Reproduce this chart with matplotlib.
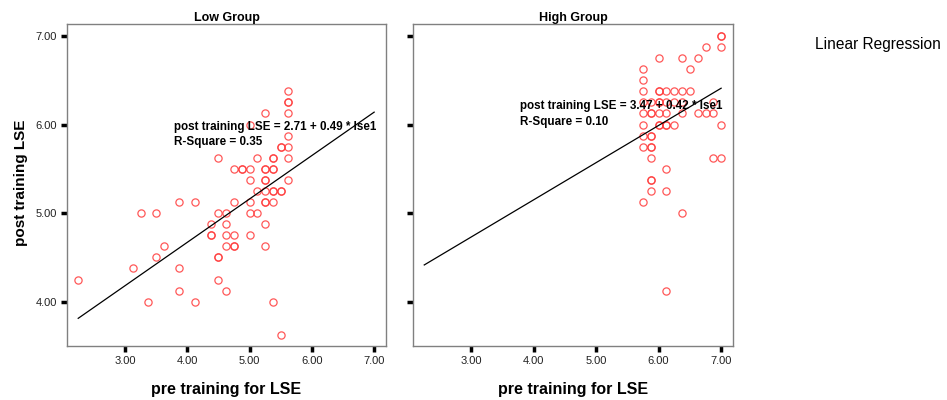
import matplotlib
matplotlib.use("Agg")
import matplotlib.pyplot as plt
import numpy as np

plt.rcParams['font.family'] = ['Liberation Sans', 'DejaVu Sans']

# ---- data ----
x_low = [5.625, 5.625, 5.625, 5.25, 5.625, 5.0, 5.625, 5.5, 5.5, 5.625,
         4.5, 5.125, 5.375, 5.375, 5.625,
         4.75, 4.875, 4.875, 5.0, 5.25, 5.25, 5.375, 5.375,
         5.0, 5.25, 5.25, 5.625,
         5.125, 5.25, 5.375, 5.375, 5.5, 5.5,
         3.875, 4.125, 4.75, 5.0, 5.25, 5.25, 5.375,
         3.25, 3.5, 4.5, 4.625, 5.0, 5.125,
         4.375, 4.625, 5.25,
         4.375, 4.375, 4.625, 4.75, 5.0,
         3.625, 4.625, 4.75, 4.75, 5.25,
         3.5, 4.5, 4.5,
         3.125, 3.875,
         2.25, 4.5,
         3.875, 4.625,
         3.375, 4.125, 5.375,
         5.5]
y_low = [6.375, 6.25, 6.25, 6.125, 6.125, 6.0, 5.875, 5.75, 5.75, 5.75,
         5.625, 5.625, 5.625, 5.625, 5.625,
         5.5, 5.5, 5.5, 5.5, 5.5, 5.5, 5.5, 5.5,
         5.375, 5.375, 5.375, 5.375,
         5.25, 5.25, 5.25, 5.25, 5.25, 5.25,
         5.125, 5.125, 5.125, 5.125, 5.125, 5.125, 5.125,
         5.0, 5.0, 5.0, 5.0, 5.0, 5.0,
         4.875, 4.875, 4.875,
         4.75, 4.75, 4.75, 4.75, 4.75,
         4.625, 4.625, 4.625, 4.625, 4.625,
         4.5, 4.5, 4.5,
         4.375, 4.375,
         4.25, 4.25,
         4.125, 4.125,
         4.0, 4.0, 4.0,
         3.625]

x_high = [7.0, 7.0, 6.75, 7.0, 6.0, 6.375, 6.625, 5.75, 6.5, 5.75,
          5.75, 6.0, 6.0, 6.125, 6.25, 6.375, 6.5,
          5.75, 5.875, 6.0, 6.0, 6.125, 6.25, 6.375, 6.875,
          5.75, 5.875, 5.875, 6.0, 6.125, 6.375, 6.625, 6.75, 6.875,
          5.75, 6.0, 6.0, 6.125, 6.125, 6.25, 7.0,
          5.75, 5.875, 5.875,
          5.75, 5.875, 5.875,
          5.875, 6.875, 7.0,
          6.125,
          5.875, 5.875,
          5.875, 6.125,
          5.75,
          6.375,
          6.125]
y_high = [7.0, 7.0, 6.875, 6.875, 6.75, 6.75, 6.75, 6.625, 6.625, 6.5,
          6.375, 6.375, 6.375, 6.375, 6.375, 6.375, 6.375,
          6.25, 6.25, 6.25, 6.25, 6.25, 6.25, 6.25, 6.25,
          6.125, 6.125, 6.125, 6.125, 6.125, 6.125, 6.125, 6.125, 6.125,
          6.0, 6.0, 6.0, 6.0, 6.0, 6.0, 6.0,
          5.875, 5.875, 5.875,
          5.75, 5.75, 5.75,
          5.625, 5.625, 5.625,
          5.5,
          5.375, 5.375,
          5.25, 5.25,
          5.125,
          5.0,
          4.125]

groups = ["Low Group", "High Group"]
intercepts = [2.71, 3.47]
slopes = [0.49, 0.42]
r_squares = [0.35, 0.10]
fit_range = [2.25, 7.0]
x_ticks = [3.0, 4.0, 5.0, 6.0, 7.0]
x_tick_labels = ["3.00", "4.00", "5.00", "6.00", "7.00"]
y_ticks = [4.0, 5.0, 6.0, 7.0]
y_tick_labels = ["4.00", "5.00", "6.00", "7.00"]

# ---- figure ----
W, H = 947, 400
fig = plt.figure(figsize=(W / 100, H / 100), dpi=100)
ax_l = fig.add_axes([67 / W, 1 - 346 / H, 319 / W, 322 / H])
ax_r = fig.add_axes([413 / W, 1 - 346 / H, 320 / W, 322 / H])

data = [(x_low, y_low), (x_high, y_high)]
for i, ax in enumerate([ax_l, ax_r]):
    xs, ys = data[i]
    ax.plot(xs, ys, 'o', ms=5.2, mfc='none', mec='#ff3b3b', mew=0.9,
            alpha=0.85, zorder=2)
    xf = np.array(fit_range)
    ax.plot(xf, intercepts[i] + slopes[i] * xf, color='black', lw=0.9, zorder=3)
    ax.set_xticks(x_ticks)
    ax.set_xticklabels(x_tick_labels)
    ax.set_yticks(y_ticks)
    if i == 0:
        ax.set_yticklabels(y_tick_labels)
    else:
        ax.set_yticklabels([])
    ax.set_xlim(2.07, 7.19)
    ax.set_ylim(3.5, 7.135)
    ax.tick_params(direction='out', length=4, width=2.5, color='black',
                   labelsize=8, pad=3, labelcolor='#222222')
    for s in ax.spines.values():
        s.set_color('#808080')
        s.set_linewidth(1.0)
    ax.set_title(groups[i], fontsize=9, fontweight='bold', pad=2)
    ax.set_xlabel("pre training for LSE", fontsize=11.5, fontweight='bold',
                  labelpad=12)

ax_l.set_ylabel("post training LSE", fontsize=11, fontweight='bold')
ax_l.yaxis.set_label_coords((28 - 67) / 319, 0.5 + (185 - 183) / 322)

# annotations
ax_l.text(3.79, 5.94, "post training LSE = %.2f + %.2f * lse1" % (intercepts[0], slopes[0]),
          fontsize=8.4, fontweight='bold', va='baseline', ha='left', zorder=4)
ax_l.text(3.79, 5.77, "R-Square = %.2f" % r_squares[0],
          fontsize=8.4, fontweight='bold', va='baseline', ha='left', zorder=4)
ax_r.text(3.79, 6.17, "post training LSE = %.2f + %.2f * lse1" % (intercepts[1], slopes[1]),
          fontsize=8.4, fontweight='bold', va='baseline', ha='left', zorder=4)
ax_r.text(3.79, 6.00, "R-Square = %.2f" % r_squares[1],
          fontsize=8.4, fontweight='bold', va='baseline', ha='left', zorder=4)

fig.text(815 / W, 1 - 45 / H, "Linear Regression", fontsize=11.2, ha='left', va='center')

fig.savefig("out.png", dpi=100)
